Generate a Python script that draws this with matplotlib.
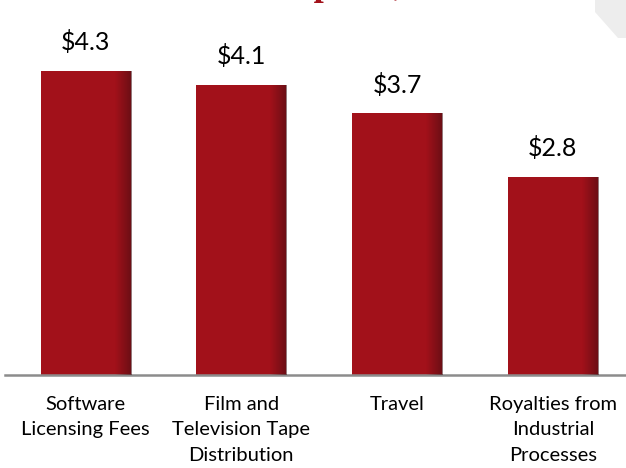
import numpy as np
import matplotlib.pyplot as plt
from matplotlib.patches import Polygon

# data
categories = ["Software\nLicensing Fees",
              "Film and\nTelevision Tape\nDistribution",
              "Travel",
              "Royalties from\nIndustrial\nProcesses"]
values = [4.3, 4.1, 3.7, 2.8]
value_labels = ["$4.3", "$4.1", "$3.7", "$2.8"]

BAR_RED = "#A2111A"

fig = plt.figure(figsize=(6.26, 4.68), dpi=100)
fig.patch.set_facecolor("white")

# decorative grey corner, top right
fig.patches.append(Polygon([[595 / 626, 1], [1, 1], [1, 1 - 38 / 468], [618 / 626, 1 - 38 / 468],
                            [595 / 626, 1 - 12 / 468]],
                           closed=True, transform=fig.transFigure,
                           facecolor="#EDEDED", edgecolor="none"))

# clipped title (only descenders visible at top)
fig.text(484 / 626, 1 + 5 / 468, "U.S. Service Exports, 2012", ha="right", va="baseline",
         fontsize=26, fontweight="bold", family="Liberation Serif", color="#A2111A")

ax = fig.add_axes([5 / 626, 93 / 468, 621 / 626, 375 / 468])
ax.set_xlim(-0.517, 3.469)
ax.set_ylim(0, 5.30)

x = np.arange(len(values))
bars = ax.bar(x, values, width=0.578, color=BAR_RED, zorder=2)

# darker shading on the right side of every bar
grad = np.linspace(0, 1, 64)
alpha = np.clip((grad - 0.82) / 0.18, 0, 1) * 0.55
shade = np.zeros((1, 64, 4))
shade[..., 0] = 0.25
shade[..., 1] = 0.05
shade[..., 2] = 0.07
shade[..., 3] = alpha
for b in bars:
    x0, w, h = b.get_x(), b.get_width(), b.get_height()
    im = ax.imshow(shade, extent=[x0, x0 + w, 0, h], aspect="auto", zorder=3,
                   interpolation="bilinear")
    im.set_clip_path(b)

for xi, v, lab in zip(x, values, value_labels):
    ax.annotate(lab, (xi, v), xytext=(0, 12), textcoords="offset points",
                ha="center", va="bottom", fontsize=18, family="Lato", color="black")

for s in ["top", "right", "left"]:
    ax.spines[s].set_visible(False)
ax.spines["bottom"].set_color("#8C8C8C")
ax.spines["bottom"].set_linewidth(1.8)
ax.set_yticks([])
ax.set_xticks(x)
ax.set_xticklabels(categories, fontsize=14.5, family="Lato", linespacing=1.6)
ax.tick_params(axis="x", length=0, pad=15)
ax.patch.set_alpha(0)

fig.savefig("out.png", dpi=100, facecolor="white")
